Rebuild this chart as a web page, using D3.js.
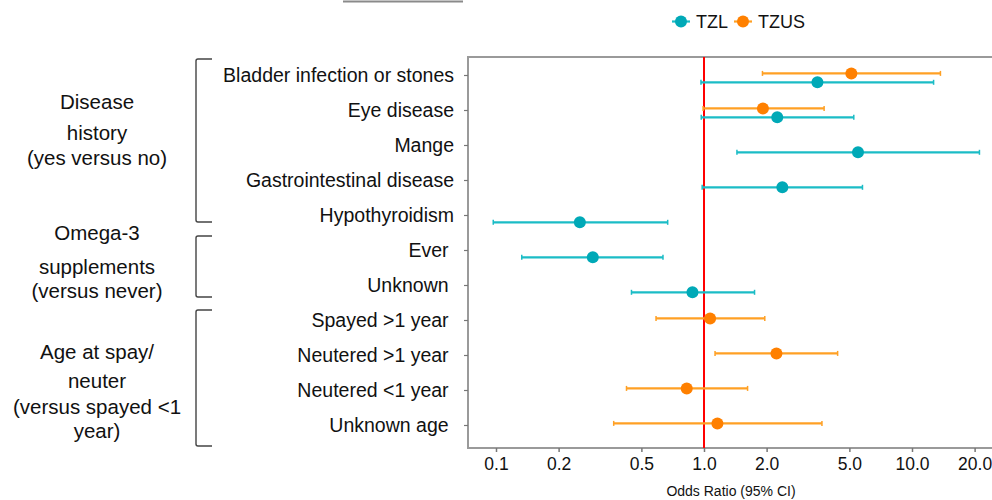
<!DOCTYPE html>
<html>
<head>
<meta charset="utf-8">
<script src="https://cdn.jsdelivr.net/npm/d3@7"></script>
<style>
  html, body { margin: 0; padding: 0; background: #fff; }
  svg { display: block; font-family: "Liberation Sans", Arial, Helvetica, sans-serif; }
  text { white-space: pre; }
</style>
</head>
<body>
<svg id="chart" width="992" height="500"></svg>
<script>
// ---------------- data ----------------
const categories = [
  "Bladder infection or stones", "Eye disease", "Mange", "Gastrointestinal disease",
  "Hypothyroidism", "Ever ", "Unknown ", "Spayed >1 year ", "Neutered >1 year ",
  "Neutered <1 year ", "Unknown age "
];
const seriesNames = ["TZL", "TZUS"];
const tzlOR    = [3.51, 2.25, 5.5, 2.38, 0.253, 0.292, 0.88, null, null, null, null];
const tzlLower = [0.967, 0.97, 1.44, 0.98, 0.097, 0.133, 0.448, null, null, null, null];
const tzlUpper = [12.7, 5.25, 21.1, 5.78, 0.669, 0.635, 1.75, null, null, null, null];
const tzusOR    = [5.11, 1.92, null, null, null, null, null, 1.07, 2.23, 0.826, 1.16];
const tzusLower = [1.91, 0.99, null, null, null, null, null, 0.588, 1.13, 0.424, 0.368];
const tzusUpper = [13.7, 3.78, null, null, null, null, null, 1.96, 4.39, 1.62, 3.69];
const tickValues = [0.1, 0.2, 0.5, 1, 2, 5, 10, 20];
const tickLabels = ["0.1", "0.2", "0.5", "1.0", "2.0", "5.0", "10.0", "20.0"];
const groupLabels = [
  ["Disease", "history", "(yes versus no)"],
  ["Omega-3", "supplements", "(versus never)"],
  ["Age at spay/", "neuter", "(versus spayed <1", "year)"]
];
const groupFirst = [0, 5, 7];
const groupLast  = [4, 6, 10];
const xTitle = "Odds Ratio (95% CI)";

// ---------------- layout ----------------
const svg = d3.select("#chart");
const plot = { left: 468, right: 1010, top: 57, bottom: 448 };
const colors = { TZL: "#00a9b7", TZUS: "#ff8000" };
const lineColors = { TZL: "#1bbcc6", TZUS: "#ffa024" };
const offsets = { TZL: 7.3, TZUS: -1.6 };
const bracketPadTop = [16, 14, 10];
const bracketPadBottom = [7, 12, 21];

const x = d3.scaleLog().domain([0.1, 10]).range([496, 912]);
const y = d3.scalePoint().domain(categories).range([plot.top + 18, plot.bottom - 23]);

// stray line at top
svg.append("line").attr("x1", 343).attr("x2", 463).attr("y1", 1.5).attr("y2", 1.5)
  .attr("stroke", "#8a8a8a").attr("stroke-width", 2);

// frame
svg.append("rect").attr("x", plot.left).attr("y", plot.top)
  .attr("width", plot.right - plot.left).attr("height", plot.bottom - plot.top)
  .attr("fill", "none").attr("stroke", "#9a9a9a").attr("stroke-width", 2);

// x axis
const xAxis = d3.axisBottom(x).tickValues(tickValues)
  .tickFormat((d, i) => tickLabels[i]).tickSize(4).tickPadding(6);
const gx = svg.append("g").attr("transform", `translate(0,${plot.bottom})`).call(xAxis);
gx.select(".domain").remove();
gx.selectAll(".tick line").attr("stroke", "#777").attr("stroke-width", 1.5);
gx.selectAll(".tick text").attr("font-size", 17.5).attr("fill", "#111")
  .attr("font-family", "'Liberation Sans', Arial, sans-serif");

svg.append("text").attr("x", 731).attr("y", 496).attr("text-anchor", "middle")
  .attr("font-size", 14).attr("fill", "#111").text(xTitle);

// y axis
const yAxis = d3.axisLeft(y).tickSize(4).tickPadding(10);
const gy = svg.append("g").attr("transform", `translate(${plot.left},0)`).call(yAxis);
gy.select(".domain").remove();
gy.selectAll(".tick line").attr("stroke", "#777").attr("stroke-width", 1.2);
gy.selectAll(".tick text").attr("font-size", 19.5).attr("fill", "#111")
  .attr("font-family", "'Liberation Sans', Arial, sans-serif");

// reference line
svg.append("line").attr("x1", x(1)).attr("x2", x(1))
  .attr("y1", plot.top).attr("y2", plot.bottom)
  .attr("stroke", "#ff0000").attr("stroke-width", 2);

// series
function drawSeries(name, or, lo, hi) {
  const rows = categories.map((c, i) => ({ c, or: or[i], lo: lo[i], hi: hi[i] }))
    .filter(d => d.or != null);
  const g = svg.append("g");
  const yy = d => y(d.c) + offsets[name];
  g.selectAll("line.bar").data(rows).join("line")
    .attr("x1", d => x(d.lo)).attr("x2", d => x(d.hi))
    .attr("y1", yy).attr("y2", yy)
    .attr("stroke", lineColors[name]).attr("stroke-width", 2.2);
  g.selectAll("line.capl").data(rows).join("line")
    .attr("x1", d => x(d.lo)).attr("x2", d => x(d.lo))
    .attr("y1", d => yy(d) - 2.5).attr("y2", d => yy(d) + 2.5)
    .attr("stroke", lineColors[name]).attr("stroke-width", 1.5);
  g.selectAll("line.capr").data(rows).join("line")
    .attr("x1", d => x(d.hi)).attr("x2", d => x(d.hi))
    .attr("y1", d => yy(d) - 2.5).attr("y2", d => yy(d) + 2.5)
    .attr("stroke", lineColors[name]).attr("stroke-width", 1.5);
  g.selectAll("circle").data(rows).join("circle")
    .attr("cx", d => x(d.or)).attr("cy", yy).attr("r", 6)
    .attr("fill", colors[name]);
}
drawSeries("TZL", tzlOR, tzlLower, tzlUpper);
drawSeries("TZUS", tzusOR, tzusLower, tzusUpper);

// brackets and group labels
const groupLineY = [[109, 140, 165], [240, 274, 298], [359, 388, 414, 438]];
groupLabels.forEach((lines, gi) => {
  const y0 = y(categories[groupFirst[gi]]) - bracketPadTop[gi];
  const y1 = y(categories[groupLast[gi]]) + bracketPadBottom[gi];
  svg.append("path")
    .attr("d", `M212,${y0} L198,${y0} Q196,${y0} 196,${y0 + 2} L196,${y1 - 2} Q196,${y1} 198,${y1} L212,${y1}`)
    .attr("fill", "none").attr("stroke", "#444").attr("stroke-width", 1.4);
  lines.forEach((t, li) => {
    svg.append("text").attr("x", 97).attr("y", groupLineY[gi][li])
      .attr("text-anchor", "middle").attr("font-size", 20.5).attr("fill", "#111").text(t);
  });
});

// legend
const legend = svg.append("g");
const legX = { TZL: 681, TZUS: 743 };
seriesNames.forEach(n => {
  const cx = legX[n];
  legend.append("line").attr("x1", cx - 9).attr("x2", cx + 9).attr("y1", 21.5).attr("y2", 21.5)
    .attr("stroke", lineColors[n]).attr("stroke-width", 2.2);
  legend.append("circle").attr("cx", cx).attr("cy", 21.5).attr("r", 6).attr("fill", colors[n]);
  legend.append("text").attr("x", cx + 15).attr("y", 28).attr("font-size", 18)
    .attr("fill", "#111").text(n);
});
</script>
</body>
</html>
